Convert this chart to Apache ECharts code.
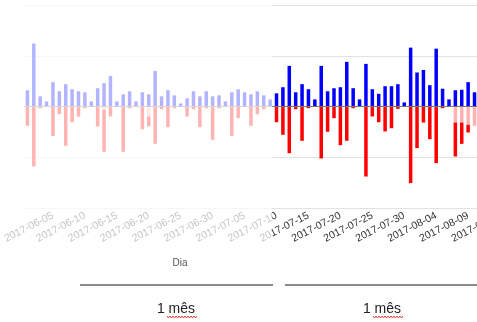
<!DOCTYPE html>
<html>
<head>
<meta charset="utf-8">
<script src="https://cdn.jsdelivr.net/npm/echarts@6/dist/echarts.min.js"></script>
<style>
html,body{margin:0;padding:0;overflow:hidden;background:#fff;width:477px;height:322px;}
#chart{width:560px;height:322px;}
</style>
</head>
<body>
<div id="chart"></div>
<script>
var days = [
'2017-06-01','2017-06-02','2017-06-03','2017-06-04','2017-06-05','2017-06-06','2017-06-07','2017-06-08','2017-06-09','2017-06-10',
'2017-06-11','2017-06-12','2017-06-13','2017-06-14','2017-06-15','2017-06-16','2017-06-17','2017-06-18','2017-06-19','2017-06-20',
'2017-06-21','2017-06-22','2017-06-23','2017-06-24','2017-06-25','2017-06-26','2017-06-27','2017-06-28','2017-06-29','2017-06-30',
'2017-07-01','2017-07-02','2017-07-03','2017-07-04','2017-07-05','2017-07-06','2017-07-07','2017-07-08','2017-07-09','2017-07-10',
'2017-07-11','2017-07-12','2017-07-13','2017-07-14','2017-07-15','2017-07-16','2017-07-17','2017-07-18','2017-07-19','2017-07-20',
'2017-07-21','2017-07-22','2017-07-23','2017-07-24','2017-07-25','2017-07-26','2017-07-27','2017-07-28','2017-07-29','2017-07-30',
'2017-07-31','2017-08-01','2017-08-02','2017-08-03','2017-08-04','2017-08-05','2017-08-06','2017-08-07','2017-08-08','2017-08-09',
'2017-08-10','2017-08-11','2017-08-12','2017-08-13','2017-08-14','2017-08-15','2017-08-16','2017-08-17','2017-08-18','2017-08-19'
];

var gains = [
16,62,10,5,24,15,22,17,15,14,
5,18,23,30,5,12,15,5,14,12,
35,10,16,11,3,8,15,10,15,10,
11,5,14,17,14,12,15,11,7,13,
19,40,14,22,17,7,40,15,18,19,
44,18,7,42,17,12.5,20,20,22,4,
58,33.5,36,21,57,17.5,7,16,16.5,24,
14
];

var lossesPending = [
0,0,0,0,0,0,0,0,0,0,
0,0,-3,0,0,0,0,0,0,-9.8,
0,0,0,0,0,0,0,0,0,0,
0,0,0,0,0,0,0,0,0,0,
0,0,0,0,0,0,0,0,0,0,
0,0,0,0,0,0,0,0,0,0,
0,0,0,0,0,0,0,-15.8,-15.8,-18,
-19
];

var losses = [
-19,-59,-1.7,0,-29,-7.6,-38.7,-15.5,-10,-1.7,
0,-19.7,-41.6,-9.8,0,-44.6,-1.7,0,-22.4,-9.8,
-36.7,-2.7,-20.4,-1.7,0,-10,-2.7,-20.4,-1.7,-32.8,
-1.7,0,-28.9,-11.5,0,-19,-7.6,-2.7,0,-15.5,
-27.9,-46,-2.7,-33.8,-1.7,0,-51.2,-24.9,-11.5,-38.1,
-33.8,-1.7,0,-69,-9.8,-15.5,-24.6,-21.4,-2.3,0,
-75.5,-41,-15.8,-32.2,-55.8,-1.7,0,-33.5,-21,-7.6,
0
];

var axisName = 'Dia';
var periodLabels = ['1 mês', '1 mês'];

var chart = echarts.init(document.getElementById('chart'), null, {renderer: 'canvas'});
var FONT = 'Liberation Sans, Arial, sans-serif';

function squiggle(x0, x1, y) {
  var pts = [];
  var up = true;
  for (var x = x0; x <= x1; x += 1.5) {
    pts.push([x, up ? y - 1 : y + 1]);
    up = !up;
  }
  return pts;
}

var option = {
  animation: false,
  grid: {left: 11.4, top: 5, width: 523.8, height: 203, containLabel: false},
  xAxis: {
    type: 'category',
    data: days,
    boundaryGap: true,
    axisLine: {show: false},
    axisTick: {show: false},
    splitLine: {show: false},
    axisLabel: {
      interval: function (idx) { return idx % 5 === 4; },
      rotate: 27,
      margin: 7,
      fontSize: 10.5,
      color: '#333',
      fontFamily: FONT,
      hideOverlap: false
    }
  },
  yAxis: {
    type: 'value',
    min: -100,
    max: 100,
    interval: 50,
    axisLabel: {show: false},
    axisLine: {show: false},
    axisTick: {show: false},
    splitLine: {lineStyle: {color: '#e2e2e2', width: 1}}
  },
  series: [
    {
      name: 'gain', type: 'bar', stack: 'a', data: gains, barWidth: 3.5,
      itemStyle: {color: '#0000ff'},
      markLine: {
        silent: true, symbol: 'none', label: {show: false},
        lineStyle: {color: '#777', type: 'solid', width: 1},
        data: [{yAxis: 0}]
      }
    },
    {
      name: 'pending', type: 'bar', stack: 'a', data: lossesPending, barWidth: 3.5,
      itemStyle: {color: 'rgba(255,0,0,0.3)'}
    },
    {
      name: 'loss', type: 'bar', stack: 'a', data: losses, barWidth: 3.5,
      itemStyle: {color: '#ff0000'}
    }
  ],
  graphic: [
    {type: 'rect', z: 100, shape: {x: 0, y: 0, width: 272, height: 252},
     style: {fill: 'rgba(255,255,255,0.7)'}, silent: true},
    {type: 'text', z: 101, x: 180, y: 263,
     style: {text: axisName, fill: '#555', font: '10px ' + FONT, align: 'center', verticalAlign: 'middle'}},
    {type: 'line', z: 101, shape: {x1: 80, y1: 285, x2: 273, y2: 285},
     style: {stroke: '#666', lineWidth: 1.6}},
    {type: 'line', z: 101, shape: {x1: 285, y1: 285, x2: 480, y2: 285},
     style: {stroke: '#666', lineWidth: 1.6}},
    {type: 'text', z: 101, x: 176, y: 309,
     style: {text: periodLabels[0], fill: '#222', font: '14px ' + FONT, align: 'center', verticalAlign: 'middle'}},
    {type: 'text', z: 101, x: 382, y: 309,
     style: {text: periodLabels[1], fill: '#222', font: '14px ' + FONT, align: 'center', verticalAlign: 'middle'}},
    {type: 'polyline', z: 101, shape: {points: squiggle(167, 197, 317)},
     style: {stroke: '#e03030', lineWidth: 0.9, fill: null}},
    {type: 'polyline', z: 101, shape: {points: squiggle(373, 403, 317)},
     style: {stroke: '#e03030', lineWidth: 0.9, fill: null}}
  ]
};
chart.setOption(option);
</script>
</body>
</html>
